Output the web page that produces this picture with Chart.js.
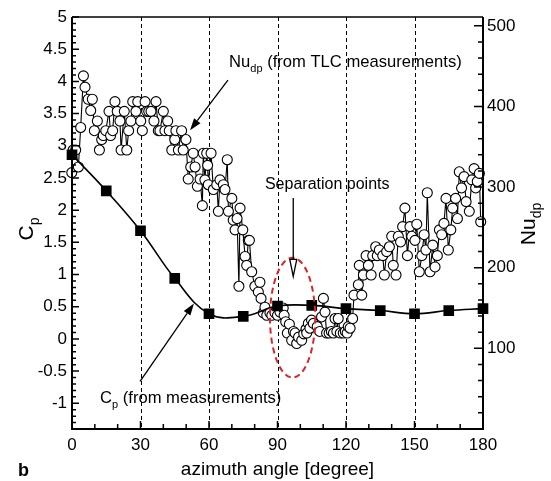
<!DOCTYPE html>
<html>
<head>
<meta charset="utf-8">
<script src="https://cdn.jsdelivr.net/npm/chart.js@4.4.0/dist/chart.umd.min.js"></script>
<style>
  html, body { margin: 0; padding: 0; background: #fff; }
  #wrap { width: 551px; height: 481px; position: relative; }
</style>
</head>
<body>
<div id="wrap"><canvas id="chart"></canvas></div>
<script>
// pressure coefficient, measured every 15 degrees
const cpAngle = [0, 15, 30, 45, 60, 75, 90, 105, 120, 135, 150, 165, 180];
const cpValue = [2.86, 2.30, 1.68, 0.94, 0.39, 0.35, 0.51, 0.52, 0.47, 0.44, 0.39, 0.44, 0.47];

const nuAngle = [
  -0.1, 0.5, 1.6, 2.8, 3.8, 5.0, 5.7, 7.1, 8.2, 8.9, 9.8, 11.1, 12.0, 13.0, 13.7, 14.8, 16.2, 16.9, 17.8, 18.8,
  19.8, 21.0, 21.5, 22.9, 24.0, 24.8, 25.8, 26.6, 28.0, 28.8, 30.1, 30.8, 32.0, 32.7, 33.6, 34.6, 35.9, 36.8, 37.8, 38.5,
  40.0, 40.7, 41.9, 42.6, 43.7, 45.0, 45.5, 46.6, 48.0, 48.7, 49.9, 50.9, 52.0, 53.1, 53.9, 54.9, 56.1, 57.1, 57.5, 58.2,
  59.0, 59.4, 59.7, 60.9, 61.9, 63.4, 64.1, 64.8, 66.3, 67.0, 68.0, 68.5, 70.0, 70.6, 71.4, 72.3, 73.1, 73.6, 74.8, 75.8,
  76.5, 77.2, 77.7, 78.7, 80.1, 81.6, 82.3, 82.8, 83.8, 84.5, 85.3, 86.7, 87.5, 88.9, 90.0, 91.1, 92.5, 92.9, 93.6, 94.3,
  95.2, 96.2, 97.0, 97.7, 98.4, 99.2, 100.6, 101.5, 102.5, 102.8, 103.5, 104.2, 104.9, 105.7, 107.4, 108.5, 109.3, 110.1, 110.8, 111.5,
  112.6, 113.6, 114.5, 115.2, 116.0, 116.6, 117.5, 118.8, 119.7, 120.5, 121.0, 121.8, 122.9, 123.5, 125.4, 125.8, 126.9, 127.6, 128.8, 129.8,
  131.0, 131.7, 133.0, 133.7, 134.6, 136.1, 136.8, 137.8, 139.0, 140.0, 140.7, 141.9, 142.9, 143.9, 144.8, 145.8, 146.9, 148.0, 148.8, 150.2,
  151.0, 152.1, 153.2, 154.2, 155.0, 155.6, 156.8, 158.0, 159.0, 160.0, 160.9, 161.9, 162.9, 163.8, 164.8, 165.9, 166.7, 168.0, 168.8, 169.6,
  170.6, 171.7, 172.6, 174.0, 175.1, 176.1, 176.8, 177.5, 178.4, 179.0
];
const nuValue = [
  318, 346, 346, 325, 374, 438, 424, 409, 395, 409, 370, 382, 346, 359, 364, 370, 394, 364, 370, 406,
  394, 382, 346, 394, 346, 370, 382, 406, 394, 406, 382, 370, 406, 394, 394, 394, 382, 406, 370, 370,
  394, 370, 382, 370, 346, 359, 370, 346, 370, 346, 359, 310, 325, 342, 325, 301, 310, 277, 342, 309,
  342, 327, 303, 342, 297, 303, 270, 309, 303, 297, 334, 270, 286, 259, 247, 261, 177, 274, 247, 214,
  203, 234, 234, 195, 177, 170, 182, 162, 144, 151, 141, 144, 141, 144, 141, 145, 150, 141, 133, 119,
  130, 110, 121, 119, 106, 114, 110, 118, 124, 119, 131, 125, 135, 131, 127, 121, 139, 162, 145, 119,
  119, 121, 119, 137, 121, 137, 119, 119, 121, 119, 127, 125, 137, 166, 179, 203, 166, 191, 215, 203,
  191, 215, 226, 215, 222, 215, 191, 220, 226, 239, 203, 191, 239, 232, 251, 274, 215, 251, 239, 234,
  254, 195, 215, 241, 222, 293, 195, 228, 201, 215, 247, 241, 255, 286, 222, 247, 274, 286, 261, 319,
  299, 313, 282, 270, 309, 323, 299, 307, 317, 257
];

const xTicks = [0, 30, 60, 90, 120, 150, 180];
const cpTicks = [-1, -0.5, 0, 0.5, 1, 1.5, 2, 2.5, 3, 3.5, 4, 4.5, 5];
const nuTicks = [100, 200, 300, 400, 500];
const gridAngles = [30, 60, 90, 120, 150];

const FONT = '"Liberation Sans", Arial, sans-serif';

function arrow(ctx, x1, y1, x2, y2, hollow) {
  const a = Math.atan2(y2 - y1, x2 - x1);
  const len = hollow ? 17 : 12, hw = hollow ? 3.5 : 4;
  const bx = x2 - len * Math.cos(a), by = y2 - len * Math.sin(a);
  ctx.beginPath();
  ctx.moveTo(x1, y1);
  ctx.lineTo(bx, by);
  ctx.stroke();
  ctx.beginPath();
  ctx.moveTo(x2, y2);
  ctx.lineTo(bx + hw * Math.sin(a), by - hw * Math.cos(a));
  ctx.lineTo(bx - hw * Math.sin(a), by + hw * Math.cos(a));
  ctx.closePath();
  if (hollow) { ctx.fillStyle = '#fff'; ctx.fill(); ctx.stroke(); ctx.fillStyle = '#000'; }
  else ctx.fill();
}

// text with a subscript, returns the full width
function subText(ctx, main, sub, rest, x, y, size, subSize) {
  ctx.font = size + 'px ' + FONT;
  ctx.fillText(main, x, y);
  let w = ctx.measureText(main).width;
  ctx.font = subSize + 'px ' + FONT;
  ctx.fillText(sub, x + w, y + size * 0.3);
  w += ctx.measureText(sub).width;
  if (rest) {
    ctx.font = size + 'px ' + FONT;
    ctx.fillText(rest, x + w, y);
    w += ctx.measureText(rest).width;
  }
  return w;
}
function subWidth(ctx, main, sub, size, subSize) {
  ctx.font = size + 'px ' + FONT;
  let w = ctx.measureText(main).width;
  ctx.font = subSize + 'px ' + FONT;
  return w + ctx.measureText(sub).width;
}

const decor = {
  id: 'decor',
  beforeDatasetsDraw(chart) {
    const { ctx, chartArea: ca, scales: { x } } = chart;
    ctx.save();
    ctx.strokeStyle = '#000';
    ctx.lineWidth = 1;
    ctx.setLineDash([4, 3]);
    gridAngles.forEach(a => {
      const px = Math.round(x.getPixelForValue(a)) + 0.5;
      ctx.beginPath();
      ctx.moveTo(px, ca.top);
      ctx.lineTo(px, ca.bottom);
      ctx.stroke();
    });
    ctx.restore();
  },
  afterDatasetsDraw(chart) {
    const { ctx, chartArea: ca, scales: { x, y, y1 } } = chart;
    const X = v => x.getPixelForValue(v), Y = v => y.getPixelForValue(v);
    ctx.save();
    ctx.strokeStyle = '#000';
    ctx.fillStyle = '#000';

    // frame
    ctx.lineWidth = 2;
    ctx.beginPath();
    ctx.moveTo(ca.left, ca.top);
    ctx.lineTo(ca.left, ca.bottom);
    ctx.lineTo(ca.right, ca.bottom);
    ctx.lineTo(ca.right, ca.top);
    ctx.stroke();
    ctx.lineWidth = 1.5;
    ctx.beginPath();
    ctx.moveTo(ca.left, ca.top);
    ctx.lineTo(ca.right, ca.top);
    ctx.stroke();

    // inward ticks
    ctx.lineWidth = 1.5;
    ctx.beginPath();
    for (let v = 0; v <= 180; v += 10) {
      const px = X(v), l = v % 30 === 0 ? 8 : 5;
      ctx.moveTo(px, ca.bottom); ctx.lineTo(px, ca.bottom - l);
    }
    for (let i = -13; i <= 50; i++) {
      const py = Y(i / 10), l = i % 5 === 0 ? 7 : 4;
      ctx.moveTo(ca.left, py); ctx.lineTo(ca.left + l, py);
    }
    for (let v = 20; v <= 500; v += 20) {
      const py = y1.getPixelForValue(v), l = v % 100 === 0 ? 9 : 5;
      ctx.moveTo(ca.right, py); ctx.lineTo(ca.right - l, py);
    }
    ctx.stroke();

    // separation ellipse
    ctx.save();
    ctx.strokeStyle = '#d9262b';
    ctx.lineWidth = 2;
    ctx.setLineDash([6, 4]);
    ctx.beginPath();
    const ex = X(96.6), ey = Y(0.33);
    ctx.ellipse(ex, ey, X(96.6 + 9.9) - ex, Y(0.33 - 0.93) - ey, 0, 0, Math.PI * 2);
    ctx.stroke();
    ctx.restore();

    // annotations
    ctx.lineWidth = 1.3;
    ctx.textBaseline = 'alphabetic';
    ctx.textAlign = 'left';
    subText(ctx, 'Nu', 'dp', ' (from TLC measurements)', X(68.8), Y(4.22), 16.6, 11);
    arrow(ctx, X(68.3), Y(4.02), X(51.7), Y(3.24), false);

    ctx.font = '16px ' + FONT;
    ctx.fillText('Separation points', X(84.5), Y(2.33));
    arrow(ctx, X(96.9), Y(2.19), X(96.9), Y(0.97), true);

    subText(ctx, 'C', 'p', ' (from measurements)', X(12.3), Y(-1.0), 16.6, 11);
    arrow(ctx, X(29.8), Y(-0.66), X(53.4), Y(0.55), false);

    // axis titles
    ctx.save();
    ctx.translate(ca.left - 39, 229);
    ctx.rotate(-Math.PI / 2);
    let w = subWidth(ctx, 'C', 'p', 21, 14);
    subText(ctx, 'C', 'p', '', -w / 2, 0, 21, 14);
    ctx.restore();

    ctx.save();
    ctx.translate(ca.right + 52, 224);
    ctx.rotate(-Math.PI / 2);
    w = subWidth(ctx, 'Nu', 'dp', 21, 14);
    subText(ctx, 'Nu', 'dp', '', -w / 2, 0, 21, 14);
    ctx.restore();

    ctx.font = '19px ' + FONT;
    ctx.textAlign = 'center';
    ctx.fillText('azimuth angle [degree]', (ca.left + ca.right) / 2, 475);
    ctx.textAlign = 'left';
    ctx.font = 'bold 18px ' + FONT;
    ctx.fillText('b', 18, 476);
    ctx.restore();
  }
};

const tickFont = { family: FONT, size: 17 };

new Chart(document.getElementById('chart'), {
  type: 'scatter',
  data: {
    datasets: [
      {
        label: 'Cp',
        data: cpAngle.map((a, i) => ({ x: a, y: cpValue[i] })),
        yAxisID: 'y',
        showLine: true,
        tension: 0.4,
        borderColor: '#000',
        borderWidth: 1.6,
        pointStyle: 'rect',
        pointRadius: 6.4,
        pointBackgroundColor: '#000',
        pointBorderColor: '#000',
        clip: false
      },
      {
        label: 'Nu',
        data: nuAngle.map((a, i) => ({ x: a, y: nuValue[i] })),
        yAxisID: 'y1',
        showLine: true,
        tension: 0,
        borderColor: '#000',
        borderWidth: 1.1,
        pointRadius: 5,
        pointBackgroundColor: '#fff',
        pointBorderColor: '#000',
        pointBorderWidth: 1.1,
        clip: false
      }
    ]
  },
  options: {
    responsive: true,
    maintainAspectRatio: false,
    animation: false,
    layout: { padding: { top: 17, left: 0, right: 0, bottom: 0 } },
    plugins: { legend: { display: false }, tooltip: { enabled: false } },
    scales: {
      x: {
        type: 'linear', position: 'bottom', min: 0, max: 180,
        grid: { display: false, drawTicks: false }, border: { display: false },
        ticks: { font: tickFont, color: '#000', padding: 6, maxRotation: 0, callback: v => String(v) },
        afterBuildTicks: s => { s.ticks = xTicks.map(v => ({ value: v })); },
        afterFit: s => { s.height = 52; }
      },
      y: {
        type: 'linear', position: 'left', min: -1.4, max: 5,
        grid: { display: false, drawTicks: false }, border: { display: false },
        ticks: { font: tickFont, color: '#000', padding: 5, callback: v => String(v) },
        afterBuildTicks: s => { s.ticks = cpTicks.map(v => ({ value: v })); },
        afterFit: s => { s.width = 72; }
      },
      y1: {
        type: 'linear', position: 'right', min: 0, max: 511,
        grid: { display: false, drawTicks: false }, border: { display: false },
        ticks: { font: tickFont, color: '#000', padding: 4, callback: v => String(v) },
        afterBuildTicks: s => { s.ticks = nuTicks.map(v => ({ value: v })); },
        afterFit: s => { s.width = 68; }
      }
    }
  },
  plugins: [decor]
});
</script>
</body>
</html>
